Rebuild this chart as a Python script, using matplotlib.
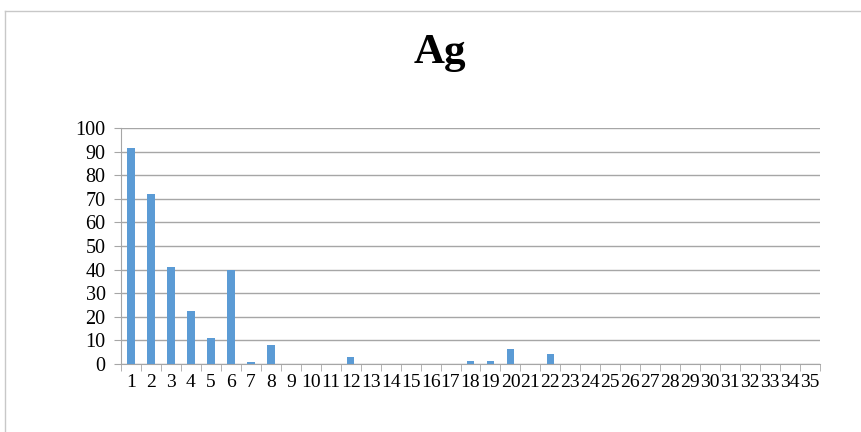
import numpy as np
import matplotlib
matplotlib.use("Agg")
import matplotlib.pyplot as plt
from matplotlib.lines import Line2D

plt.rcParams['font.family'] = ['Liberation Serif', 'DejaVu Serif']

# data
categories = list(range(1, 36))
values = [91.5, 72, 41.2, 22.3, 11.1, 40, 0.9, 8, 0, 0,
          0, 2.9, 0, 0, 0, 0, 0, 1.1, 1.4, 6.3,
          0, 4.3, 0, 0, 0, 0, 0, 0, 0, 0,
          0, 0, 0, 0, 0]
yticks = list(range(0, 101, 10))

fig = plt.figure(figsize=(8.61, 4.32), dpi=100)
ax = fig.add_axes([121 / 861, 1 - 364 / 432, 699 / 861, 236 / 432])

ax.bar(categories, values, width=0.38, color='#5B9BD5', zorder=3)

ax.set_xlim(0.5, 35.5)
ax.set_ylim(0, 100)
ax.set_yticks(yticks)
ax.yaxis.grid(True, color='#a6a6a6', linewidth=1.0, zorder=0)
ax.tick_params(axis='y', length=5, color='#a6a6a6', labelsize=14.5, pad=6)

# category labels centred, tick marks between categories
ax.set_xticks(categories)
ax.set_xticklabels([str(c) for c in categories])
ax.set_xticks(np.arange(0.5, 36, 1), minor=True)
ax.tick_params(axis='x', which='major', length=0, labelsize=14, pad=7)
ax.tick_params(axis='x', which='minor', length=5, color='#a6a6a6', direction='out')

for s in ['top', 'right']:
    ax.spines[s].set_visible(False)
ax.spines['left'].set_color('#a6a6a6')
ax.spines['bottom'].set_color('#a6a6a6')

fig.text(440 / 861, 1 - 53 / 432, 'Ag', ha='center', va='center',
         fontsize=31, fontweight='bold')

# outer chart frame (left and top edges are visible)
fig.add_artist(Line2D([5 / 861, 5 / 861], [0, 1 - 11 / 432], transform=fig.transFigure,
                      color='#c8c8c8', linewidth=1))
fig.add_artist(Line2D([5 / 861, 1], [1 - 11 / 432, 1 - 11 / 432], transform=fig.transFigure,
                      color='#c8c8c8', linewidth=1))

fig.savefig('out.png', dpi=100)
